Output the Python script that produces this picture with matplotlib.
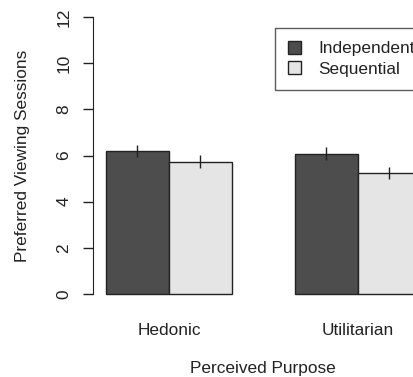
import matplotlib
matplotlib.use("Agg")
import matplotlib.pyplot as plt
import numpy as np

plt.rcParams["font.family"] = ["Liberation Sans", "DejaVu Sans"]

# data
groups = ["Hedonic", "Utilitarian"]
conditions = ["Independent", "Sequential"]
means = {"Independent": [6.21, 6.08], "Sequential": [5.74, 5.26]}
errors = {"Independent": [0.26, 0.27], "Sequential": [0.27, 0.26]}
colors = {"Independent": "#4d4d4d", "Sequential": "#e5e5e5"}
yticks = [0, 2, 4, 6, 8, 10, 12]

W, H = 414, 377
fig = plt.figure(figsize=(W / 100, H / 100), dpi=100)
# axes runs past the right edge, like the clipped original
ax = fig.add_axes([93.4 / W, (H - 305.1) / H, 340.2 / W, 299.2 / H])

fs = 12.4
for gi, g in enumerate(groups):
    for ci, c in enumerate(conditions):
        x = 1 + gi * 3 + ci + 0.5
        ax.bar(x, means[c][gi], width=1.0, color=colors[c],
               edgecolor="#222222", linewidth=1.0, zorder=2)
        ax.vlines(x, means[c][gi] - errors[c][gi], means[c][gi] + errors[c][gi],
                  color="#222222", linewidth=1.0, zorder=3)

ax.set_xlim(0.8, 6.2)
ax.set_ylim(-0.48, 12.48)

for s in ["top", "right", "bottom"]:
    ax.spines[s].set_visible(False)
ax.spines["left"].set_bounds(0, 12)
ax.spines["left"].set_color("#222222")

ax.set_yticks(yticks)
ax.set_yticklabels([str(v) for v in yticks], rotation=90, va="center")
ax.tick_params(axis="y", length=7, width=1, color="#222222", pad=9,
               labelsize=fs, labelcolor="#222222")
ax.set_xticks([2, 5])
ax.set_xticklabels(groups)
ax.tick_params(axis="x", length=0, pad=13, labelsize=fs, labelcolor="#222222")

fig.text(263 / W, 1 - 369 / H, "Perceived Purpose", ha="center", va="center",
         fontsize=fs, color="#222222")
fig.text(23 / W, 1 - 155.5 / H, "Preferred Viewing Sessions", ha="center",
         va="center", rotation=90, fontsize=fs, color="#222222")

# legend box
leg = ax.legend([plt.Rectangle((0, 0), 1, 1, facecolor=colors[c], edgecolor="#222222")
                 for c in conditions], conditions,
                loc="upper left", bbox_to_anchor=((275 - 93.4) / 340.2, (305.1 - 28) / 299.2),
                frameon=True, fancybox=False, fontsize=fs, handlelength=0.75,
                handleheight=0.75, handletextpad=1.0, borderpad=0.75,
                labelspacing=0.3, borderaxespad=0)
leg.get_frame().set_edgecolor("#333333")
leg.get_frame().set_linewidth(1.0)
for t in leg.get_texts():
    t.set_color("#222222")

fig.savefig("out.png", dpi=100)
